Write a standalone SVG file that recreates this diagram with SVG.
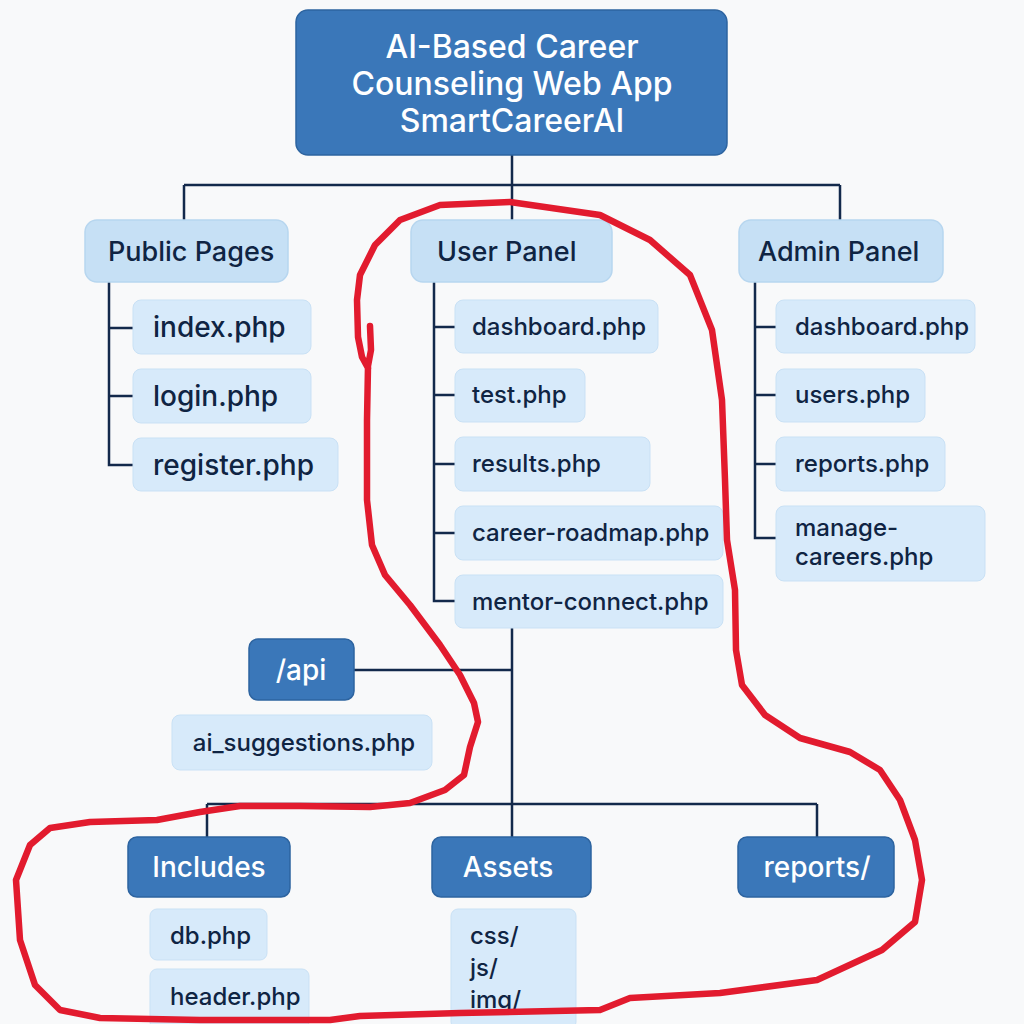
<svg xmlns="http://www.w3.org/2000/svg" width="1024" height="1024" viewBox="0 0 1024 1024">
<style>
.bg{fill:#f8f9fa}
.dark{fill:#3a77b9;stroke:#2d64a0;stroke-width:1.5}
.cat{fill:#c6e0f5;stroke:#b7d6ef;stroke-width:1.5}
.leaf{fill:#d7eafa;stroke:#c9e1f5;stroke-width:1}
.wt{font-family:Inter,"Open Sans",sans-serif;font-weight:500;fill:#ffffff}
.dt{font-family:Inter,"Open Sans",sans-serif;font-weight:500;fill:#0f2443}
.ln{fill:none;stroke:#13294b;stroke-width:2.5}
.red{fill:none;stroke:#e21b2e;stroke-width:6.5;stroke-linecap:round;stroke-linejoin:round}
</style>
<rect class="bg" x="0" y="0" width="1024" height="1024"/>
<g id="connectors">
<path class="ln" d="M512,155 V185 M184,185 H840 M184,185 V221 M512,185 V221 M840,185 V221"/>
<path class="ln" d="M109,282 V465 H133 M109,328 H133 M109,396 H133"/>
<path class="ln" d="M434,282 V601 H455 M434,327 H455 M434,395 H455 M434,464 H455 M434,533 H455"/>
<path class="ln" d="M755,282 V538 H776 M755,327 H776 M755,395 H776 M755,464 H776"/>
<path class="ln" d="M512,628 V837 M354,670 H512 M207,804 H817 M207,804 V837 M817,804 V837"/>
</g>
<g id="root">
<rect class="dark" x="296" y="10" width="431" height="145" rx="12"/>
<text class="wt" font-size="32" text-anchor="middle"><tspan x="512" y="58">AI-Based Career</tspan><tspan x="512" y="95">Counseling Web App</tspan><tspan x="512" y="132">SmartCareerAI</tspan></text>
</g>
<g id="public-pages">
<rect class="cat" x="85" y="220" width="203" height="62" rx="12"/>
<text class="dt" font-size="27" x="108" y="261">Public Pages</text>
</g>
<g id="user-panel">
<rect class="cat" x="411" y="220" width="201" height="62" rx="12"/>
<text class="dt" font-size="27" x="437" y="261">User Panel</text>
</g>
<g id="admin-panel">
<rect class="cat" x="739" y="220" width="204" height="62" rx="12"/>
<text class="dt" font-size="27" x="758" y="261">Admin Panel</text>
</g>
<g id="index"><rect class="leaf" x="133" y="300" width="178" height="54" rx="8"/><text class="dt" font-size="28" x="153" y="337">index.php</text></g>
<g id="login"><rect class="leaf" x="133" y="369" width="178" height="54" rx="8"/><text class="dt" font-size="28" x="153" y="406">login.php</text></g>
<g id="register"><rect class="leaf" x="133" y="438" width="205" height="53" rx="8"/><text class="dt" font-size="28" x="153" y="475">register.php</text></g>
<g id="u-dashboard"><rect class="leaf" x="455" y="300" width="203" height="53" rx="8"/><text class="dt" font-size="24" x="472" y="335">dashboard.php</text></g>
<g id="u-test"><rect class="leaf" x="455" y="369" width="130" height="53" rx="8"/><text class="dt" font-size="24" x="472" y="403">test.php</text></g>
<g id="u-results"><rect class="leaf" x="455" y="437" width="195" height="54" rx="8"/><text class="dt" font-size="24" x="472" y="472">results.php</text></g>
<g id="u-roadmap"><rect class="leaf" x="455" y="506" width="268" height="54" rx="8"/><text class="dt" font-size="24" x="472" y="541">career-roadmap.php</text></g>
<g id="u-mentor"><rect class="leaf" x="455" y="575" width="268" height="53" rx="8"/><text class="dt" font-size="24" x="472" y="610">mentor-connect.php</text></g>
<g id="a-dashboard"><rect class="leaf" x="776" y="300" width="199" height="53" rx="8"/><text class="dt" font-size="24" x="795" y="335">dashboard.php</text></g>
<g id="a-users"><rect class="leaf" x="776" y="369" width="149" height="53" rx="8"/><text class="dt" font-size="24" x="795" y="403">users.php</text></g>
<g id="a-reports"><rect class="leaf" x="776" y="437" width="169" height="54" rx="8"/><text class="dt" font-size="24" x="795" y="472">reports.php</text></g>
<g id="a-manage"><rect class="leaf" x="776" y="506" width="209" height="75" rx="8"/><text class="dt" font-size="24"><tspan x="795" y="536">manage-</tspan><tspan x="795" y="565">careers.php</tspan></text></g>
<g id="api"><rect class="dark" x="249" y="639" width="105" height="61" rx="9"/><text class="wt" font-size="28" x="301" y="680" text-anchor="middle">/api</text></g>
<g id="ai-suggestions"><rect class="leaf" x="172" y="715" width="260" height="55" rx="8"/><text class="dt" font-size="24" x="304" y="751" text-anchor="middle">ai_suggestions.php</text></g>
<g id="includes"><rect class="dark" x="128" y="837" width="162" height="60" rx="9"/><text class="wt" font-size="28" x="209" y="877" text-anchor="middle">Includes</text></g>
<g id="assets"><rect class="dark" x="432" y="837" width="159" height="60" rx="9"/><text class="wt" font-size="28" x="508" y="877" text-anchor="middle">Assets</text></g>
<g id="reports-dir"><rect class="dark" x="738" y="837" width="156" height="60" rx="9"/><text class="wt" font-size="28" x="817" y="877" text-anchor="middle">reports/</text></g>
<g id="db"><rect class="leaf" x="150" y="909" width="117" height="51" rx="7"/><text class="dt" font-size="24" x="170" y="944">db.php</text></g>
<g id="header"><rect class="leaf" x="150" y="969" width="159" height="60" rx="7"/><text class="dt" font-size="24" x="170" y="1005">header.php</text></g>
<g id="assets-files"><rect class="leaf" x="451" y="909" width="125" height="120" rx="7"/><text class="dt" font-size="24"><tspan x="470" y="944">css/</tspan><tspan x="470" y="976">js/</tspan><tspan x="470" y="1008">img/</tspan></text></g>
<g id="annotation">
<polyline class="red" points="370,326 371,350 368,366 367,420 367,500 372,545 385,575 410,605 440,645 460,675 474,703 478,722 470,747 464,775 445,790 410,803 370,807 300,806 240,806 200,812 157,820 90,822 50,828 30,845 16,880 20,940 35,985 60,1010 100,1018 200,1020 330,1020 360,1016 460,1013 600,1010 630,998 720,993 817,980 882,950 915,922 922,880 915,840 900,800 880,770 850,752 800,738 765,715 742,685 736,650 735,590 727,540 725,480 722,400 712,330 690,275 650,240 600,215 510,202 440,205 400,220 375,245 360,275 357,300 358,337 362,357 368,368"/>
</g>
</svg>
